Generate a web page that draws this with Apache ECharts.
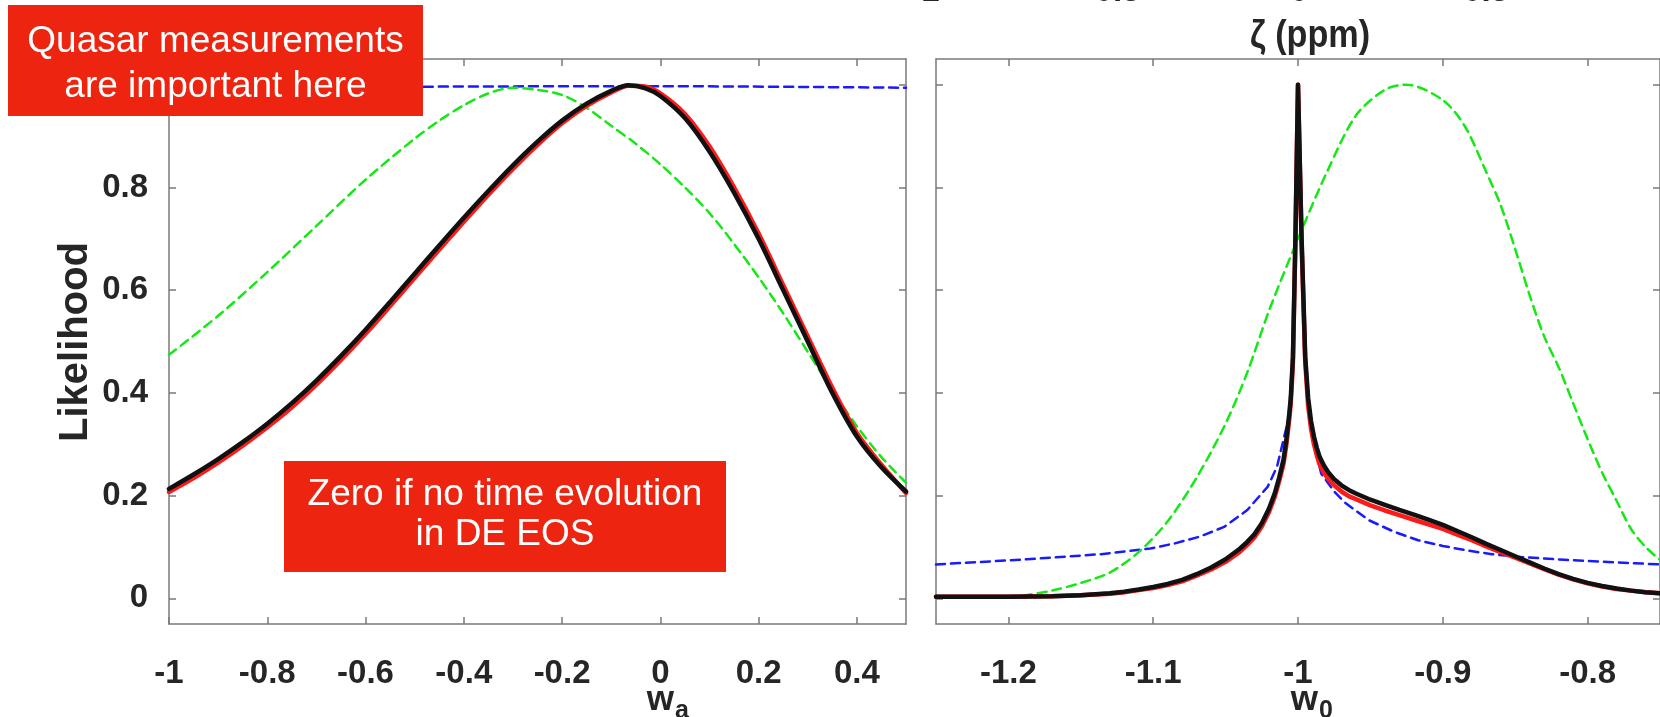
<!DOCTYPE html>
<html>
<head>
<meta charset="utf-8">
<script src="https://cdn.jsdelivr.net/npm/echarts@6.0.0/dist/echarts.min.js"></script>
<style>
  html, body { margin: 0; padding: 0; background: #ffffff; }
  #chart { width: 1660px; height: 717px; }
</style>
</head>
<body>
<div id="chart"></div>
<script>
// ---- Left panel: likelihood versus w_a ----
const waX = [-1, -0.95, -0.9, -0.85, -0.8, -0.75, -0.7, -0.65, -0.6, -0.55, -0.5, -0.45, -0.4, -0.35, -0.3, -0.25, -0.2, -0.15, -0.1, -0.065, -0.03, 0, 0.05, 0.1, 0.15, 0.2, 0.25, 0.3, 0.35, 0.4, 0.45, 0.5];
const waBlack = [0.213, 0.241, 0.271, 0.304, 0.34, 0.38, 0.424, 0.472, 0.523, 0.577, 0.632, 0.687, 0.741, 0.793, 0.843, 0.889, 0.93, 0.963, 0.988, 0.999, 0.993, 0.978, 0.935, 0.87, 0.79, 0.70, 0.60, 0.50, 0.40, 0.315, 0.255, 0.208];
const waRed = [0.207, 0.234, 0.264, 0.297, 0.333, 0.372, 0.416, 0.464, 0.515, 0.569, 0.624, 0.679, 0.733, 0.786, 0.836, 0.883, 0.925, 0.959, 0.985, 0.998, 0.996, 0.983, 0.943, 0.88, 0.80, 0.71, 0.61, 0.51, 0.41, 0.322, 0.26, 0.205];
const waGreenX = [-1, -0.9, -0.8, -0.7, -0.6, -0.5, -0.45, -0.4, -0.35, -0.3, -0.25, -0.2, -0.15, -0.1, -0.05, 0, 0.05, 0.1, 0.15, 0.2, 0.25, 0.3, 0.35, 0.4, 0.45, 0.5];
const waGreen = [0.474, 0.55, 0.635, 0.725, 0.815, 0.895, 0.93, 0.96, 0.983, 0.994, 0.99, 0.98, 0.955, 0.92, 0.885, 0.845, 0.80, 0.75, 0.69, 0.625, 0.555, 0.48, 0.405, 0.335, 0.275, 0.225];
const waBlueX = [-1, -0.5, 0, 0.5];
const waBlue = [0.992, 0.996, 0.997, 0.994];

// ---- Right panel: likelihood versus w_0 ----
const w0X = [-1.25, -1.2, -1.17, -1.15, -1.13, -1.12, -1.11, -1.1, -1.09, -1.08, -1.07, -1.06, -1.05, -1.04, -1.035, -1.03, -1.025, -1.02, -1.016, -1.013, -1.01, -1.008, -1.006, -1.005, -1.0035, -1.0018, -1.0, -0.9975, -0.995, -0.993, -0.991, -0.989, -0.987, -0.985, -0.982, -0.979, -0.975, -0.97, -0.965, -0.96, -0.95, -0.94, -0.93, -0.92, -0.91, -0.9, -0.89, -0.88, -0.87, -0.86, -0.85, -0.84, -0.83, -0.82, -0.81, -0.8, -0.79, -0.78, -0.77, -0.76, -0.75];
const w0Black = [0.003, 0.003, 0.004, 0.006, 0.01, 0.013, 0.017, 0.022, 0.028, 0.036, 0.047, 0.06, 0.076, 0.097, 0.11, 0.125, 0.146, 0.175, 0.205, 0.235, 0.27, 0.31, 0.36, 0.39, 0.47, 0.70, 1.0, 0.70, 0.47, 0.39, 0.345, 0.315, 0.293, 0.275, 0.258, 0.245, 0.232, 0.22, 0.211, 0.204, 0.192, 0.182, 0.172, 0.163, 0.153, 0.143, 0.131, 0.119, 0.106, 0.094, 0.082, 0.07, 0.058, 0.047, 0.038, 0.03, 0.024, 0.019, 0.015, 0.012, 0.01];
const w0Red = [0.003, 0.003, 0.004, 0.006, 0.009, 0.012, 0.016, 0.02, 0.026, 0.033, 0.044, 0.056, 0.071, 0.091, 0.104, 0.119, 0.14, 0.168, 0.198, 0.228, 0.262, 0.30, 0.35, 0.38, 0.46, 0.69, 1.0, 0.69, 0.46, 0.375, 0.33, 0.3, 0.278, 0.26, 0.244, 0.232, 0.22, 0.208, 0.199, 0.193, 0.181, 0.171, 0.162, 0.153, 0.144, 0.135, 0.124, 0.113, 0.101, 0.09, 0.079, 0.068, 0.057, 0.046, 0.037, 0.029, 0.023, 0.018, 0.015, 0.012, 0.01];
const w0GreenX = [-1.19, -1.17, -1.15, -1.13, -1.11, -1.09, -1.07, -1.05, -1.035, -1.02, -1.0, -0.98, -0.96, -0.94, -0.925, -0.9, -0.885, -0.87, -0.86, -0.85, -0.84, -0.83, -0.82, -0.81, -0.8, -0.79, -0.78, -0.77, -0.76, -0.75];
const w0Green = [0.005, 0.015, 0.03, 0.05, 0.09, 0.15, 0.235, 0.34, 0.44, 0.56, 0.70, 0.83, 0.94, 0.99, 1.0, 0.97, 0.92, 0.83, 0.765, 0.68, 0.59, 0.51, 0.45, 0.38, 0.31, 0.245, 0.19, 0.135, 0.10, 0.075];
const w0BlueX = [-1.25, -1.187, -1.136, -1.102, -1.085, -1.068, -1.051, -1.035, -1.021, -1.0145, -1.009, -1.006, -1.0035, -1.0018, -1.0, -0.9975, -0.995, -0.993, -0.991, -0.988, -0.984, -0.975, -0.967, -0.951, -0.934, -0.917, -0.9, -0.883, -0.866, -0.849, -0.816, -0.78, -0.75];
const w0Blue = [0.066, 0.076, 0.086, 0.097, 0.107, 0.12, 0.139, 0.172, 0.217, 0.256, 0.321, 0.355, 0.46, 0.69, 0.97, 0.69, 0.46, 0.38, 0.33, 0.29, 0.243, 0.208, 0.185, 0.152, 0.13, 0.113, 0.102, 0.093, 0.086, 0.081, 0.075, 0.07, 0.066];

// ---- Tick labels ----
const waTicks = [-1, -0.8, -0.6, -0.4, -0.2, 0, 0.2, 0.4];
const w0Ticks = [-1.2, -1.1, -1, -0.9, -0.8];
const likeTicks = [0, 0.2, 0.4, 0.6, 0.8, 1];
const zetaTicks = ['-1', '-0.5', '0', '0.5', '1'];

const zip = (xs, ys) => xs.map((x, i) => [x, ys[i]]);

const AX_COLOR = '#7a7a7a';
const TXT_COLOR = '#262626';
const FONT = '"Liberation Sans", Arial, Helvetica, sans-serif';

function xAxisCfg(gridIndex, min, max, ticks, showLabels, position) {
  return {
    type: 'value', gridIndex, min, max, position,
    axisLine: { show: true, onZero: false, lineStyle: { color: AX_COLOR, width: 1.5 } },
    axisTick: { show: true, inside: true, length: 7, lineStyle: { color: AX_COLOR, width: 1.5 }, customValues: ticks },
    axisLabel: {
      show: showLabels, customValues: ticks, margin: 33,
      color: TXT_COLOR, fontSize: 33, fontWeight: 'bold', fontFamily: FONT,
      formatter: v => String(+v.toFixed(2))
    },
    splitLine: { show: false }
  };
}
function yAxisCfg(gridIndex, showLabels, position) {
  return {
    type: 'value', gridIndex, min: -0.05, max: 1.05, position,
    axisLine: { show: true, onZero: false, lineStyle: { color: AX_COLOR, width: 1.5 } },
    axisTick: { show: true, inside: true, length: 7, lineStyle: { color: AX_COLOR, width: 1.5 }, customValues: likeTicks },
    axisLabel: {
      show: showLabels, customValues: likeTicks, margin: 21,
      color: TXT_COLOR, fontSize: 33, fontWeight: 'bold', fontFamily: FONT,
      formatter: v => String(+v.toFixed(2))
    },
    splitLine: { show: false }
  };
}

function lineSeries(xi, yi, data, color, width, dashed, z, smooth) {
  return {
    type: 'line', xAxisIndex: xi, yAxisIndex: yi, data,
    showSymbol: false, symbol: 'none', smooth: smooth,
    lineStyle: { color, width, type: dashed ? [9, 6] : 'solid', join: 'round', cap: 'round' },
    z, animation: false, silent: true
  };
}

const chart = echarts.init(document.getElementById('chart'), null, { renderer: 'canvas' });

function subText(x, y, main, sub) {
  return [
    { type: 'text', x, y, z: 10,
      style: { text: main, font: 'bold 35px ' + FONT, fill: TXT_COLOR, textAlign: 'right', textVerticalAlign: 'middle' } },
    { type: 'text', x: x + 1, y: y + 11, z: 10,
      style: { text: sub, font: 'bold 25px ' + FONT, fill: TXT_COLOR, textAlign: 'left', textVerticalAlign: 'middle' } }
  ];
}

const option = {
  backgroundColor: '#ffffff',
  animation: false,
  grid: [
    { left: 169, top: 59, width: 737, height: 565 },
    { left: 936, top: 59, width: 737, height: 565 }
  ],
  xAxis: [
    xAxisCfg(0, -1, 0.5, waTicks, true, 'bottom'),
    xAxisCfg(0, -1, 0.5, waTicks, false, 'top'),
    xAxisCfg(1, -1.25, -0.75, w0Ticks, true, 'bottom'),
    xAxisCfg(1, -1.25, -0.75, w0Ticks, false, 'top')
  ],
  yAxis: [
    yAxisCfg(0, true, 'left'),
    yAxisCfg(0, false, 'right'),
    yAxisCfg(1, false, 'left'),
    yAxisCfg(1, false, 'right')
  ],
  series: [
    lineSeries(0, 0, zip(waBlueX, waBlue), '#1a1aff', 2.5, true, 2, 0.3),
    lineSeries(0, 0, zip(waGreenX, waGreen), '#16e816', 2.5, true, 2, 0.3),
    lineSeries(0, 0, zip(waX, waRed), '#ff1a1a', 4.5, false, 3, 0.3),
    lineSeries(0, 0, zip(waX, waBlack), '#111111', 4.5, false, 4, 0.3),
    lineSeries(2, 2, zip(w0BlueX, w0Blue), '#1a1aff', 2.5, true, 2, false),
    lineSeries(2, 2, zip(w0GreenX, w0Green), '#16e816', 2.5, true, 2, 0.3),
    lineSeries(2, 2, zip(w0X, w0Red), '#ff1a1a', 4.5, false, 3, false),
    lineSeries(2, 2, zip(w0X, w0Black), '#111111', 4.5, false, 4, false)
  ],
  graphic: [
    // y-axis title
    { type: 'text', x: 76, y: 342, rotation: Math.PI / 2, z: 10,
      style: { text: 'Likelihood', font: 'bold 40px ' + FONT, fill: TXT_COLOR, textAlign: 'center', textVerticalAlign: 'middle' } },
    // x-axis titles with subscripts
    ...subText(674, 700, 'w', 'a'),
    ...subText(1318, 700, 'w', '0'),
    // colour-bar title and its clipped tick labels above the right panel
    { type: 'text', x: 1310, y: 37, z: 10, scaleX: 0.9,
      style: { text: 'ζ (ppm)', font: 'bold 38px ' + FONT, fill: TXT_COLOR, textAlign: 'center', textVerticalAlign: 'middle' } },
    ...zetaTicks.map((t, i) => ({
      type: 'text', x: 925 + i * 187, y: -8, z: 10,
      style: { text: t, font: 'bold 33px ' + FONT, fill: TXT_COLOR, textAlign: 'center', textVerticalAlign: 'middle' }
    })),
    // annotation boxes
    { type: 'rect', z: 20, shape: { x: 8, y: 5, width: 415, height: 111 }, style: { fill: '#ec2410' } },
    { type: 'text', z: 21, x: 215.5, y: 64.5,
      style: { text: 'Quasar measurements\nare important here', font: '37px ' + FONT, fill: '#ffffff',
        textAlign: 'center', textVerticalAlign: 'middle', lineHeight: 45 } },
    { type: 'rect', z: 20, shape: { x: 284, y: 461, width: 442, height: 111 }, style: { fill: '#ec2410' } },
    { type: 'text', z: 21, x: 505, y: 515,
      style: { text: 'Zero if no time evolution\nin DE EOS', font: '37px ' + FONT, fill: '#ffffff',
        textAlign: 'center', textVerticalAlign: 'middle', lineHeight: 40 } }
  ]
};

chart.setOption(option);
</script>
</body>
</html>
